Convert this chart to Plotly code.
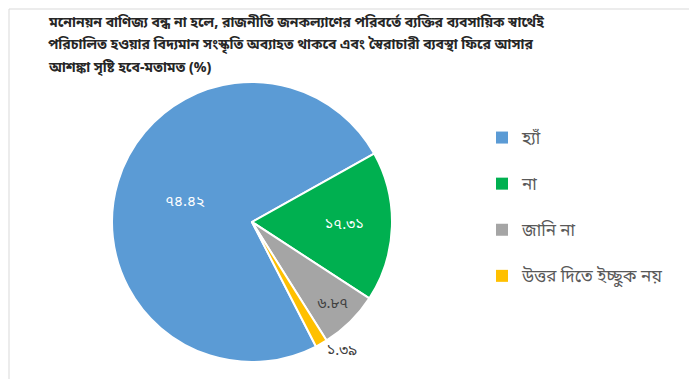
import plotly.graph_objects as go

categories = ["হ্যাঁ", "না", "জানি না", "উত্তর দিতে ইচ্ছুক নয়"]
values = [74.42, 17.31, 6.87, 1.39]
value_labels = ["৭৪.৪২", "১৭.৩১", "৬.৮৭", "১.৩৯"]
colors = ["#5B9BD5", "#00B050", "#A5A5A5", "#FFC000"]
title_lines = ["মনোনয়ন বাণিজ্য বন্ধ না হলে, রাজনীতি জনকল্যাণের পরিবর্তে ব্যক্তির ব্যবসায়িক স্বার্থেই",
               "পরিচালিত হওয়ার বিদ্যমান সংস্কৃতি অব্যাহত থাকবে এবং স্বৈরাচারী ব্যবস্থা ফিরে আসার",
               "আশঙ্কা সৃষ্টি হবে-মতামত (%)"]

W, H = 697, 379
FONT = "Noto Sans Bengali, Noto Sans, sans-serif"

fig = go.Figure()
fig.add_trace(go.Pie(
    labels=categories, values=values, text=value_labels,
    texttemplate="%{text}", textinfo="text",
    sort=False, direction="clockwise", rotation=152.8,
    marker=dict(colors=colors, line=dict(color="white", width=2)),
    textposition=["inside", "inside", "inside", "outside"],
    insidetextorientation="horizontal",
    textfont=dict(family=FONT, size=15,
                  color=["white", "white", "#404040", "#404040"]),
    outsidetextfont=dict(family=FONT, size=15, color="#404040"),
    domain=dict(x=[(244 - 140) / W, (244 + 140) / W], y=[25 / H, 305 / H]),
    showlegend=False, hoverinfo="label+value",
))
for c, col in zip(categories, colors):
    fig.add_trace(go.Scatter(
        x=[None], y=[None], mode="markers", name=c, legendgroup=c,
        marker=dict(symbol="square", size=8, color=col),
    ))

annotations = []
for i, line in enumerate(title_lines):
    annotations.append(dict(
        text="<b>" + line + "</b>", xref="paper", yref="paper",
        x=38 / W, y=1 - (15 + 23 * i) / H, xanchor="left", yanchor="middle",
        showarrow=False, font=dict(family=FONT, size=14, color="#262626"),
    ))

fig.update_layout(
    width=W, height=H,
    margin=dict(l=0, r=0, t=0, b=0),
    paper_bgcolor="white", plot_bgcolor="white",
    xaxis=dict(visible=False), yaxis=dict(visible=False),
    annotations=annotations,
    legend=dict(x=474 / W, y=1 - 112 / H, xanchor="left", yanchor="top",
                tracegroupgap=21, itemsizing="constant", itemwidth=30,
                font=dict(family=FONT, size=17, color="#595959")),
    shapes=[dict(type="rect", xref="paper", yref="paper",
                 x0=1 / W, x1=1 - 1 / W, y0=3 / H, y1=1 - 1 / H,
                 line=dict(color="#D9D9D9", width=1), fillcolor="rgba(0,0,0,0)")],
)
fig.write_html("out.html")
